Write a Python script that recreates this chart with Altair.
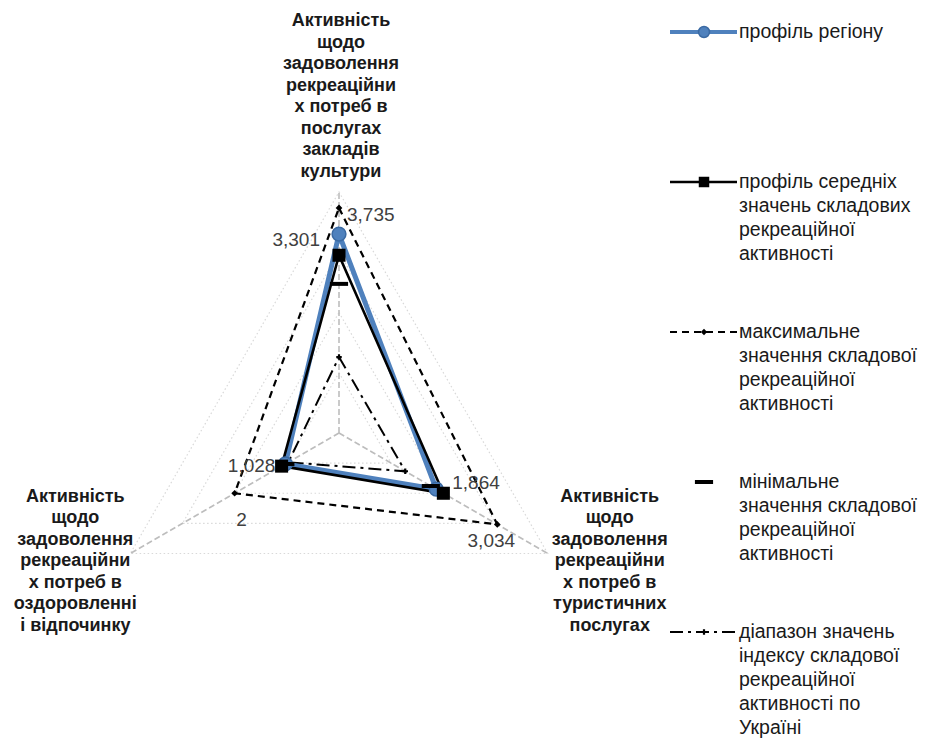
import math
import altair as alt
import pandas as pd

# ---------------- data ----------------
categories = [
    "Активність\nщодо\nзадоволення\nрекреаційни\nх потреб в\nпослугах\nзакладів\nкультури",
    "Активність\nщодо\nзадоволення\nрекреаційни\nх потреб в\nтуристичних\nпослугах",
    "Активність\nщодо\nзадоволення\nрекреаційни\nх потреб в\nоздоровленні\nі відпочинку",
]
series_keys = ["region", "average", "maximum", "minimum", "range"]
series_labels = [
    "профіль регіону",
    "профіль середніх\nзначень складових\nрекреаційної\nактивності",
    "максимальне\nзначення складової\nрекреаційної\nактивності",
    "мінімальне\nзначення складової\nрекреаційної\nактивності",
    "діапазон значень\nіндексу складової\nрекреаційної\nактивності по\nУкраїні",
]
region = [3.301, 1.864, 1.028]
average = [2.95, 2.00, 1.10]
maximum = [3.735, 3.034, 2.0]
minimum = [2.475, 1.76, 1.028]
value_range = [1.26, 1.27, 0.97]
grid_levels = [1, 2, 3, 4]
axis_max = 4

values = {"region": region, "average": average, "maximum": maximum,
          "minimum": minimum, "range": value_range}

rows = []
for s in series_keys:
    for k, v in enumerate(values[s]):
        rows.append({"series": s, "k": k, "v": v, "label": f"{v:g}".replace(".", ",")})
df = pd.DataFrame(rows)

grid_df = pd.DataFrame([{"level": L, "k": k, "v": L} for L in grid_levels for k in range(3)])
spoke_df = pd.DataFrame([{"k": k, "v": axis_max, "cat": categories[k]} for k in range(3)])
legend_df = pd.DataFrame([{"series": s, "idx": i, "text": t}
                          for i, (s, t) in enumerate(zip(series_keys, series_labels))])

# ---------------- geometry / scales ----------------
W, H = 914, 731
PX = 60.25               # pixels per unit
CX, CY = 331, 425        # centre inside the view
xdom = [-CX / PX, (W - CX) / PX]
ydom = [-(H - CY) / PX, CY / PX]

XS = alt.Scale(domain=xdom, nice=False, zero=False)
YS = alt.Scale(domain=ydom, nice=False, zero=False)

FONT = "Liberation Sans"


def polar(ch):
    return ch.transform_calculate(
        px="datum.v * sin(datum.k * 2 * PI / 3)",
        py="datum.v * cos(datum.k * 2 * PI / 3)",
    )


def xy():
    return dict(x=alt.X("px:Q", scale=XS, axis=None), y=alt.Y("py:Q", scale=YS, axis=None))


grid = polar(alt.Chart(grid_df)).mark_line(
    interpolate="linear-closed", color="#d9d9d9", strokeWidth=1.2, strokeDash=[1.5, 2.5]
).encode(**xy(), detail="level:N", order="k:Q")

spokes = alt.Chart(spoke_df).transform_calculate(
    px="datum.v * sin(datum.k * 2 * PI / 3)",
    py="datum.v * cos(datum.k * 2 * PI / 3)",
    ox="0", oy="0",
).mark_rule(color="#bdbdbd", strokeWidth=1.6, strokeDash=[6, 3]).encode(
    x=alt.X("ox:Q", scale=XS, axis=None), y=alt.Y("oy:Q", scale=YS, axis=None),
    x2="px:Q", y2="py:Q",
)


def series_line(key, **kw):
    return polar(alt.Chart(df)).transform_filter(f"datum.series == '{key}'").mark_line(
        interpolate="linear-closed", **kw
    ).encode(**xy(), order="k:Q")


def series_pts(key, **kw):
    return polar(alt.Chart(df)).transform_filter(f"datum.series == '{key}'").mark_point(
        **kw
    ).encode(**xy())


DASH_SHAPE = "M-1,-0.22L1,-0.22L1,0.22L-1,0.22Z"
BLUE = "#4F81BD"

max_line = series_line("maximum", color="black", strokeWidth=2.2, strokeDash=[7, 5])
range_line = series_line("range", color="black", strokeWidth=2, strokeDash=[13, 5, 3, 5])
region_line = series_line("region", color=BLUE, strokeWidth=5)
avg_line = series_line("average", color="black", strokeWidth=2.6)

max_pts = series_pts("maximum", shape="diamond", filled=True, color="black", size=45, opacity=1)
range_pts = series_pts("range", shape="cross", filled=True, color="black", size=30, opacity=1)
region_pts = series_pts("region", shape="circle", filled=True, fill=BLUE, stroke="#3b6aa3",
                        strokeWidth=1.5, size=190, opacity=1)
avg_pts = series_pts("average", shape="square", filled=True, color="black", size=170, opacity=1)
min_pts = series_pts("minimum", shape=DASH_SHAPE, filled=True, color="black", size=330, opacity=1)

# data labels: (series, axis index, align, dx, dy)
label_styles = [
    ("maximum", 0, "left", 8, 7),
    ("region", 0, "right", -19, 6),
    ("region", 2, "right", -10, 2),
    ("region", 1, "left", 16, -6),
    ("maximum", 2, "center", 7, 27),
    ("maximum", 1, "center", -6, 17),
]
data_labels = []
for s, k, al, dx, dy in label_styles:
    data_labels.append(
        polar(alt.Chart(df)).transform_filter(
            f"datum.series == '{s}' && datum.k == {k}"
        ).mark_text(align=al, baseline="middle", dx=dx, dy=dy, fontSize=19,
                    font=FONT, color="#404040").encode(**xy(), text="label:N")
    )

# category labels: (axis index, align, dx, dy)
cat_styles = [(0, "center", 2, -166), (1, "center", 62, -52), (2, "center", -55, -52)]
cat_labels = []
for k, al, dx, dy in cat_styles:
    cat_labels.append(
        polar(alt.Chart(spoke_df)).transform_filter(f"datum.k == {k}").mark_text(
            align=al, baseline="alphabetic", dx=dx, dy=dy, fontSize=18, fontWeight="bold",
            font=FONT, color="#1a1a1a", lineBreak="\n", lineHeight=21.5,
        ).encode(**xy(), text="cat:N")
    )

# ---------------- legend ----------------
leg = alt.Chart(legend_df).transform_calculate(ly="24 + datum.idx * 150")
LY = alt.Y("ly:Q", scale=None)


def leg_rule(key, **kw):
    return leg.transform_filter(f"datum.series == '{key}'").mark_rule(**kw).encode(
        x=alt.value(662), x2=alt.value(729), y=LY)


def leg_pt(key, **kw):
    return leg.transform_filter(f"datum.series == '{key}'").mark_point(opacity=1, **kw).encode(
        x=alt.value(696), y=LY)


legend_layers = [
    leg_rule("region", color=BLUE, strokeWidth=4),
    leg_pt("region", shape="circle", filled=True, fill=BLUE, stroke="#3b6aa3", strokeWidth=1.5, size=120),
    leg_rule("average", color="black", strokeWidth=2.4),
    leg_pt("average", shape="square", filled=True, color="black", size=110),
    leg_rule("maximum", color="black", strokeWidth=2.2, strokeDash=[7, 5]),
    leg_pt("maximum", shape="diamond", filled=True, color="black", size=40),
    leg_pt("minimum", shape=DASH_SHAPE, filled=True, color="black", size=330),
    leg_rule("range", color="black", strokeWidth=2, strokeDash=[13, 5, 3, 5]),
    leg_pt("range", shape="cross", filled=True, color="black", size=30),
    leg.mark_text(align="left", baseline="alphabetic", dy=6, fontSize=19.5, font=FONT,
                  color="#1a1a1a", lineBreak="\n", lineHeight=24).encode(
        x=alt.value(731), y=LY, text="text:N"),
]

chart = alt.layer(
    grid, spokes, max_line, range_line, region_line, avg_line,
    max_pts, range_pts, region_pts, avg_pts, min_pts,
    *data_labels, *cat_labels, *legend_layers,
).properties(
    width=W, height=H, autosize=alt.AutoSizeParams(type="none"), padding=0,
).configure_view(stroke=None)

chart.save("out.html", embed_options={"renderer": "svg", "actions": False})
